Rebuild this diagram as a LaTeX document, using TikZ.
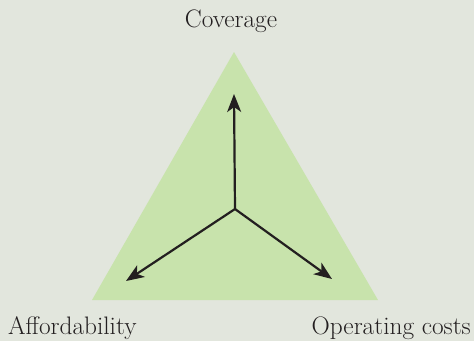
\documentclass[tikz,border=0pt]{standalone}
\usetikzlibrary{arrows.meta}
\definecolor{bgc}{HTML}{E2E6DD}
\definecolor{trif}{HTML}{C8E3AC}
\definecolor{ink}{HTML}{231F20}
\begin{document}
\begin{tikzpicture}[x=1pt,y=-1pt,
  lbl/.style={inner sep=0pt,text=ink,font=\fontsize{25.3}{29}\selectfont},
  arr/.style={draw=ink,line width=2.2pt,-{Stealth[length=18pt,width=14pt,inset=5pt]}}]
\fill[bgc] (0,0) rectangle (474,341);
\useasboundingbox (0,0) rectangle (474,341);
\coordinate (A) at (234,52);
\coordinate (B) at (92,300);
\coordinate (C) at (378,300);
\fill[trif] (A) -- (B) -- (C) -- cycle;
\coordinate (O) at (235,209);
\coordinate (U) at (234,94);
\coordinate (L) at (126,281);
\coordinate (R) at (332,279);
\draw[arr] (O) -- (U);
\draw[arr] (O) -- (L);
\draw[arr] (O) -- (R);
\node[lbl,anchor=base] (cov) at (231,27) {Coverage};
\node[lbl,anchor=base west] (aff) at (8,334) {Affordability};
\node[lbl,anchor=base east] (op) at (471,334) {Operating costs};
\end{tikzpicture}
\end{document}
